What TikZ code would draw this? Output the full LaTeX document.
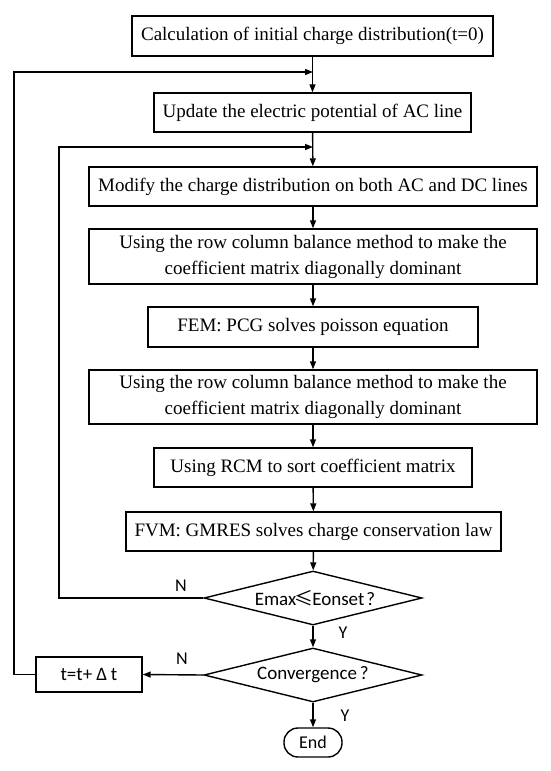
\documentclass[tikz,border=0pt]{standalone}
\usepackage{fontspec}
\setmainfont{Liberation Serif}
\newfontfamily\calfont{Carlito}
\newfontfamily\cjkfont{Noto Sans CJK SC}
\usetikzlibrary{shapes.geometric,arrows.meta}
\begin{document}
\begin{tikzpicture}[x=1pt,y=-1pt,line width=1.4pt,
  box/.style={draw,rectangle,inner sep=0pt,align=center,font=\fontsize{19}{26}\selectfont},
  dec/.style={draw,diamond,inner sep=0pt,shape aspect=4,minimum width=218pt,minimum height=54pt,font=\calfont\fontsize{19}{22}\selectfont},
  lbl/.style={font=\calfont\fontsize{18}{20}\selectfont,inner sep=0pt},
  arr/.style={-{Triangle[length=8pt,width=6pt]}}]
\useasboundingbox (0,0) rectangle (550,771);
\node[box,minimum width=361pt,minimum height=40pt] (b1) at (312.5,36) {Calculation of initial charge distribution(t=0)};
\node[box,minimum width=317pt,minimum height=39pt] (b2) at (312.5,112.5) {Update the electric potential of AC line};
\node[box,minimum width=448pt,minimum height=39pt] (b3) at (313,186.5) {Modify the charge distribution on both AC and DC lines};
\node[box,minimum width=448pt,minimum height=55pt] (b4) at (313,256.5) {Using the row column balance method to make the\\coefficient matrix diagonally dominant};
\node[box,minimum width=330pt,minimum height=40pt] (b5) at (313,327) {FEM: PCG solves poisson equation};
\node[box,minimum width=448pt,minimum height=54pt] (b6) at (313,397) {Using the row column balance method to make the\\coefficient matrix diagonally dominant};
\node[box,minimum width=318pt,minimum height=39pt] (b7) at (313,467.5) {Using RCM to sort coefficient matrix};
\node[box,minimum width=375pt,minimum height=39pt] (b8) at (313.5,531.5) {FVM: GMRES solves charge conservation law};
\node[dec] (d1) at (313,598) {\hspace{4pt}Emax\hspace{-1.5pt}{\cjkfont ≤}\hspace{-1.5pt}Eonset\hspace{2pt}?};
\node[dec] (d2) at (313,675) {Convergence\hspace{3pt}?};
\node[draw,rectangle,inner sep=0pt,minimum width=106pt,minimum height=35pt,font=\calfont\fontsize{19}{22}\selectfont] (t) at (89,674.5) {t=t+\hspace{4pt}Δ\hspace{4pt}t};
\node[draw,rectangle,rounded corners=14pt,inner sep=0pt,minimum width=58pt,minimum height=29pt,font=\calfont\fontsize{18}{20}\selectfont] (e) at (313,742.5) {End};
\coordinate (j1) at (313,72);
\coordinate (j2) at (313,147);
\coordinate (c1) at (14,72);
\coordinate (c2) at (59,147);
\node[lbl] (n1) at (181,586) {N};
\node[lbl] (n2) at (182,659) {N};
\node[lbl] (y1) at (343,633) {Y};
\node[lbl] (y2) at (345,716) {Y};
\draw[arr] (b1) -- (b2);
\draw[arr] (b2) -- (b3);
\draw[arr] (b3) -- (b4);
\draw[arr] (b4) -- (b5);
\draw[arr] (b5) -- (b6);
\draw[arr] (b6) -- (b7);
\draw[arr] (b7) -- (b8);
\draw[arr] (b8) -- (d1);
\draw[arr] (d1) -- (d2);
\draw[arr] (d2) -- (e);
\draw[arr] (d2.west) -- (t.east);
\draw[arr] (t.west) -| (c1) -- (j1);
\draw[arr] (d1.west) -| (c2) -- (j2);
\end{tikzpicture}
\end{document}
